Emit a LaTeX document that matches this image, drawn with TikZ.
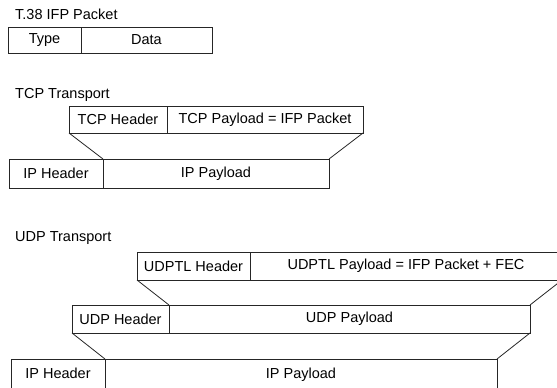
\documentclass[tikz,border=0pt]{standalone}
\usepackage{fontspec}
\setmainfont{Liberation Sans}
\begin{document}
\begin{tikzpicture}[x=1pt,y=-1pt,
  cell/.style={draw=black!85, line width=0.8pt, inner sep=0pt, outer sep=0pt, anchor=north west,
    font=\fontsize{14.5}{16}\selectfont},
  lbl/.style={inner sep=0pt, anchor=west, font=\fontsize{14.5}{16}\selectfont},
  link/.style={draw=black!85, line width=0.8pt}]
\useasboundingbox (0,0) rectangle (557,388);
\clip (0,0) rectangle (557,388);
% T.38 IFP Packet
\node[lbl] (l1) at (15,14) {T.38 IFP Packet};
\node[cell, minimum width=73pt, minimum height=26pt] (type) at (8,27) {Type};
\node[cell, minimum width=131pt, minimum height=26pt] (data) at (type.north east) {Data};
% TCP Transport
\node[lbl] (l2) at (15,95) {TCP Transport};
\node[cell, minimum width=98pt, minimum height=27pt] (tcph) at (69,106) {TCP Header};
\node[cell, minimum width=196pt, minimum height=27pt] (tcpp) at (tcph.north east) {TCP Payload = IFP Packet};
\node[cell, minimum width=94pt, minimum height=29pt] (iph1) at (9,159) {IP Header};
\node[cell, minimum width=226pt, minimum height=29pt] (ipp1) at (iph1.north east) {IP Payload};
\draw[link] (tcph.south west) -- (iph1.north east);
\draw[link] (tcpp.south east) -- (ipp1.north east);
% UDP Transport
\node[lbl] (l3) at (15,238) {UDP Transport};
\node[cell, minimum width=113pt, minimum height=28pt] (udptlh) at (137,252) {UDPTL Header};
\node[cell, minimum width=312pt, minimum height=28pt] (udptlp) at (udptlh.north east) {UDPTL Payload = IFP Packet + FEC};
\node[cell, minimum width=97pt, minimum height=28pt] (udph) at (72,305) {UDP Header};
\node[cell, minimum width=361pt, minimum height=28pt] (udpp) at (udph.north east) {UDP Payload};
\node[cell, minimum width=94pt, minimum height=34pt, text depth=0pt] (iph2) at (11,359) {\raisebox{6pt}{IP Header}};
\node[cell, minimum width=392pt, minimum height=34pt] (ipp2) at (iph2.north east) {\raisebox{6pt}{IP Payload}};
\draw[link] (udptlh.south west) -- (udph.north east);
\draw[link] (udptlp.south east) -- (udpp.north east);
\draw[link] (udph.south west) -- (iph2.north east);
\draw[link] (udpp.south east) -- (ipp2.north east);
\end{tikzpicture}
\end{document}
